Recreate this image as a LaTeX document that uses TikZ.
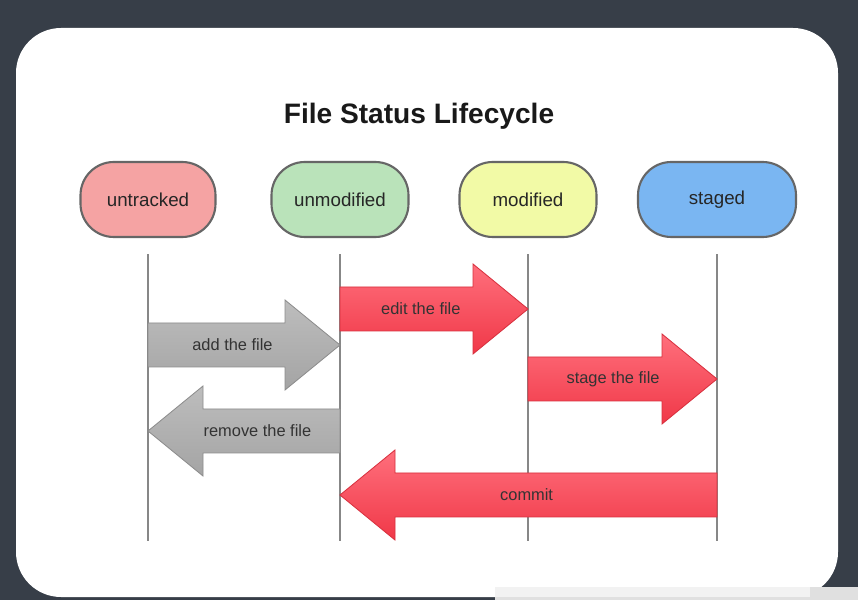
\documentclass[tikz,border=0pt]{standalone}
\usepackage{fontspec}
\setmainfont{Liberation Sans}
\usepackage{tikz}
\usetikzlibrary{positioning,calc}

\definecolor{slate}{HTML}{373E48}
\definecolor{untrackedfill}{HTML}{F5A3A3}
\definecolor{unmodifiedfill}{HTML}{BAE3BA}
\definecolor{modifiedfill}{HTML}{F2FAA6}
\definecolor{stagedfill}{HTML}{7AB6F2}
\definecolor{redtop}{HTML}{FF6F7C}
\definecolor{redbot}{HTML}{F03848}
\definecolor{redline}{HTML}{D8303E}
\definecolor{graytop}{HTML}{BDBDBD}
\definecolor{graybot}{HTML}{A4A4A4}
\definecolor{grayline}{HTML}{8C8C8C}

% block arrow: style, from node, to node, y, label position, label, name
\newcommand{\blockarrow}[7]{%
    \path (#2 |- 0,#4) coordinate (tail) (#3 |- 0,#4) coordinate (tip);
    \path ($(tip)!1.65cm!(tail)$) coordinate (neck);
    \draw[#1] ($(tail)+(0,-22)$) -- ($(neck)+(0,-22)$) -- ($(neck)+(0,-45)$) -- (tip)
        -- ($(neck)+(0,45)$) -- ($(neck)+(0,22)$) -- ($(tail)+(0,22)$) -- cycle;
    \node[arrowlabel] (#7) at ($(tail)!#5!(tip)$) {#6};
}

\begin{document}
\begin{tikzpicture}[x=0.03cm, y=-0.03cm,
    state/.style={draw=black!60, line width=1.8pt, rectangle, rounded corners=1cm,
        minimum height=2.25cm, text=black!85, font=\fontsize{16}{19}\selectfont},
    lifeline/.style={draw=black!47, line width=2.4pt},
    redarrow/.style={draw=redline, line width=0.7pt, top color=redtop, bottom color=redbot},
    grayarrow/.style={draw=grayline, line width=0.7pt, top color=graytop, bottom color=graybot},
    arrowlabel/.style={text=black!80, font=\fontsize{14}{17}\selectfont}]

    % screen and slide
    \fill[slate] (0,0) rectangle (858,600);
    \fill[white, rounded corners=1.35cm] (16,28) rectangle (838,597);
    \fill[black!12] (495,587) rectangle (858,600);
    \fill[white!95!black] (495,587) rectangle (810,597);

    \node[font=\bfseries\fontsize{24}{29}\selectfont, text=black!90] (title) at (419,116) {File Status Lifecycle};

    \node[state, fill=untrackedfill, minimum width=4.05cm] (untracked) at (148,199.5) {untracked};
    \node[state, fill=unmodifiedfill, minimum width=4.11cm] (unmodified) at (340,199.5) {unmodified};
    \node[state, fill=modifiedfill, minimum width=4.11cm] (modified) at (528,199.5) {modified};
    \node[state, fill=stagedfill, minimum width=4.74cm] (staged) at (717,199.5) {staged};

    \foreach \s in {untracked, unmodified, modified, staged}
        \draw[lifeline] (\s.south) ++(0,16) -- ++(0,287);

    \blockarrow{grayarrow}{untracked}{unmodified}{345}{0.44}{add the file}{add}
    \blockarrow{redarrow}{unmodified}{modified}{309}{0.43}{edit the file}{edit}
    \blockarrow{redarrow}{modified}{staged}{379}{0.45}{stage the file}{stage}
    \blockarrow{grayarrow}{unmodified}{untracked}{431}{0.43}{remove the file}{remove}
    \blockarrow{redarrow}{staged}{unmodified}{495}{0.505}{commit}{commit}
\end{tikzpicture}
\end{document}
